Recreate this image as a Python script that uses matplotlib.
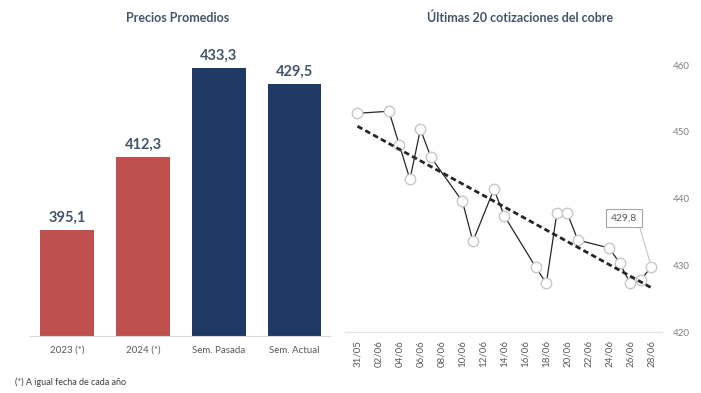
import numpy as np
import pandas as pd
import matplotlib
matplotlib.use('Agg')
import matplotlib.pyplot as plt
import matplotlib.dates as mdates

plt.rcParams['font.family'] = ['Lato', 'DejaVu Sans']

# Precios promedios
bar_labels = ['2023 (*)', '2024 (*)', 'Sem. Pasada', 'Sem. Actual']
bar_values = [395.1, 412.3, 433.3, 429.5]
bar_colors = ['#C0504D', '#C0504D', '#203864', '#203864']

# Ultimas 20 cotizaciones
fechas = ['2024-05-31', '2024-06-03', '2024-06-04', '2024-06-05', '2024-06-06',
          '2024-06-07', '2024-06-10', '2024-06-11', '2024-06-13', '2024-06-14',
          '2024-06-17', '2024-06-18', '2024-06-19', '2024-06-20', '2024-06-21',
          '2024-06-24', '2024-06-25', '2024-06-26', '2024-06-27', '2024-06-28']
precios = [452.8, 453.1, 448.0, 442.9, 450.4, 446.2, 439.6, 433.6, 441.4, 437.4,
           429.7, 427.3, 437.8, 437.8, 433.8, 432.6, 430.3, 427.3, 427.8, 429.8]

title_color = '#44546A'
tick_color = '#595959'

fig = plt.figure(figsize=(7.01, 3.93), dpi=100)

# ---- Barras ----
ax1 = fig.add_axes([0.043, 0.145, 0.428, 0.753])
x = np.arange(len(bar_values))
ax1.bar(x, bar_values, width=0.71, color=bar_colors, zorder=2)
for xi, v in zip(x, bar_values):
    ax1.text(xi, v + 1.3, f'{v:.1f}'.replace('.', ','), ha='center', va='bottom',
             fontsize=10.5, fontweight='bold', color=title_color)
ax1.set_ylim(370, 440)
ax1.set_xlim(-0.49, 3.47)
ax1.set_xticks(x)
ax1.set_xticklabels(bar_labels, fontsize=7, color=tick_color)
ax1.tick_params(axis='x', length=0, pad=7)
ax1.set_yticks([])
for s in ['top', 'right', 'left']:
    ax1.spines[s].set_visible(False)
ax1.spines['bottom'].set_color('#D9D9D9')
ax1.spines['bottom'].set_linewidth(0.8)
fig.text(0.254, 0.955, 'Precios Promedios', ha='center', va='center',
         fontsize=9, fontweight='bold', color=title_color)
fig.text(0.021, 0.028, '(*) A igual fecha de cada año', ha='left', va='center',
         fontsize=6.5, color='#404040')

# ---- Lineas ----
ax2 = fig.add_axes([0.492, 0.155, 0.452, 0.679])
d = pd.to_datetime(fechas)
dn = mdates.date2num(d)
ax2.plot(dn, precios, color='#262626', lw=0.9, zorder=3,
         marker='o', ms=7.5, mfc='white', mec='#C8C8C8', mew=1.0)
slope, intercept = np.polyfit(dn - dn[0], precios, 1)
ax2.plot(dn, slope * (dn - dn[0]) + intercept, color='#262626', lw=2.0,
         ls=(0, (2, 1.2)), zorder=4)

ax2.set_ylim(420, 460)
ax2.set_yticks([420, 430, 440, 450, 460])
ax2.yaxis.tick_right()
ax2.tick_params(axis='y', length=0, pad=8, labelsize=7, labelcolor='#7F7F7F')
ax2.set_xlim(dn[0] - 1.2, dn[-1] + 1.0)
ax2.xaxis.set_major_locator(mdates.DayLocator(bymonthday=[2, 4, 6, 8, 10, 12, 14, 16, 18, 20, 22, 24, 26, 28, 31]))
ax2.xaxis.set_major_formatter(mdates.DateFormatter('%d/%m'))
ax2.tick_params(axis='x', length=0, pad=6, labelsize=7, labelcolor=tick_color,
                labelrotation=90)
for s in ['top', 'right', 'left']:
    ax2.spines[s].set_visible(False)
ax2.spines['bottom'].set_color('#E6E6E6')
ax2.spines['bottom'].set_linewidth(0.8)

ax2.annotate(f'{precios[-1]:.1f}'.replace('.', ','), xy=(dn[-1], precios[-1]),
             xytext=(dn[-1] - 2.6, 437.1), ha='center', va='center',
             fontsize=7.5, color='#595959',
             bbox=dict(boxstyle='square,pad=0.45', fc='white', ec='#A6A6A6', lw=0.8),
             arrowprops=dict(arrowstyle='-', color='#BFBFBF', lw=0.7,
                             shrinkA=0, shrinkB=4, relpos=(1.0, 0.5)),
             zorder=5)

fig.text(0.742, 0.955, 'Últimas 20 cotizaciones del cobre', ha='center', va='center',
         fontsize=9, fontweight='bold', color=title_color)

fig.savefig('out.png', dpi=100)
